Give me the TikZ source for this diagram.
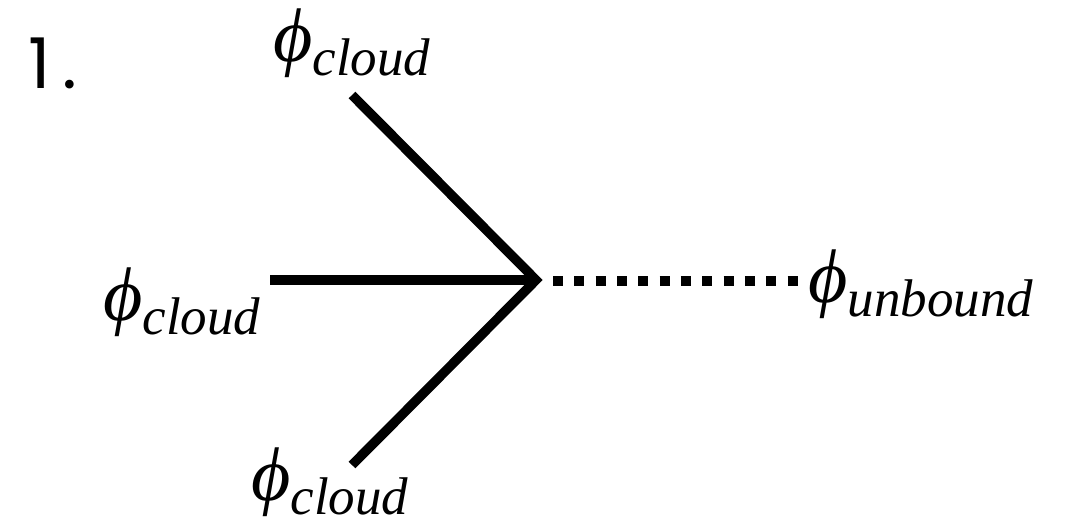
\documentclass[tikz,border=0pt]{standalone}
\usepackage{fontspec}
\setmainfont{Liberation Serif}
\newfontfamily\tmsit{LiberationSerif-Italic.ttf}
\newfontfamily\numfont{Poppins}
\begin{document}
\begin{tikzpicture}[x=1pt,y=-1pt]
\tikzset{
  edge/.style={line width=9.5pt, line join=miter},
  dots/.style={line width=10pt, dash pattern=on 10pt off 11.33pt},
  lbl/.style={inner sep=0pt, anchor=base west, font=\tmsit}
}
\useasboundingbox (0,0) rectangle (1083,525);
\coordinate (c) at (536,280);
\coordinate (t) at (352,95);
\coordinate (m) at (270,280);
\coordinate (b) at (352,465);
\coordinate (d1) at (553,281);
\coordinate (d2) at (798,281);
\node[lbl] (lt) at (273,61) {{\fontsize{76}{76}\selectfont ϕ}\raisebox{-14pt}{\fontsize{53}{53}\selectfont cloud}};
\node[lbl] (lm) at (103,320) {{\fontsize{76}{76}\selectfont ϕ}\raisebox{-14pt}{\fontsize{53}{53}\selectfont cloud}};
\node[lbl] (lb) at (251,500) {{\fontsize{76}{76}\selectfont ϕ}\raisebox{-14pt}{\fontsize{53}{53}\selectfont cloud}};
\node[lbl] (lu) at (808,302) {{\fontsize{76}{76}\selectfont ϕ}\raisebox{-14pt}{\fontsize{53}{53}\selectfont unbound}};
\draw[edge] (t) -- (c) -- (b);
\draw[edge] (m) -- (c);
\draw[dots] (d1) -- (d2);
\node[inner sep=0pt, anchor=base west] (num) at (28,88) {\fontsize{70}{70}\selectfont\numfont 1\kern12pt.};
\end{tikzpicture}
\end{document}
